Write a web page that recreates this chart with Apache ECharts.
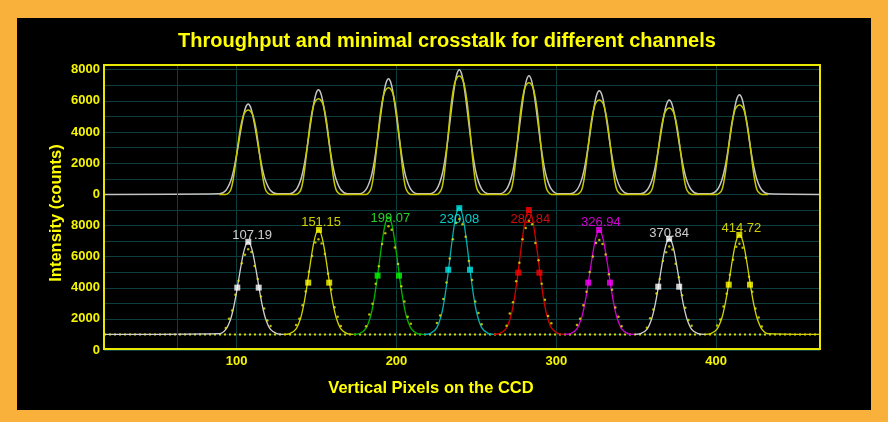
<!DOCTYPE html>
<html><head><meta charset="utf-8">
<script src="https://cdn.jsdelivr.net/npm/echarts@6/dist/echarts.min.js"></script>
<style>html,body{margin:0;padding:0;background:#f9b13b;}#c{width:888px;height:422px;}</style>
</head><body><div id="c"></div>
<script>
// ---------- text ----------
const titleText = 'Throughput and minimal crosstalk for different channels';
const yTitle = 'Intensity (counts)';
const xTitle = 'Vertical Pixels on the CCD';
// ---------- axes ----------
const xRange = [17, 465];
const topYRange = [-1000, 8300];
const botYRange = [0, 9000];
const extraVLine = 62.6;
// ---------- x samples of each peak (CCD pixel) ----------
const xs1 = [89.2,93.2,96.2,98.2,100.2,102.2,104.2,105.7,107.2,108.7,110.2,112.2,114.2,116.2,118.2,121.2,125.2];
const xs2 = [133.2,137.2,140.2,142.2,144.2,146.2,148.2,149.7,151.2,152.7,154.2,156.2,158.2,160.2,162.2,165.2,169.2];
const xs3 = [177,181,184,186,188,190,192,193.5,195,196.5,198,200,202,204,206,209,213];
const xs4 = [221.3,225.3,228.3,230.3,232.3,234.3,236.3,237.8,239.3,240.8,242.3,244.3,246.3,248.3,250.3,253.3,257.3];
const xs5 = [264.9,268.9,271.9,273.9,275.9,277.9,279.9,281.4,282.9,284.4,285.9,287.9,289.9,291.9,293.9,296.9,300.9];
const xs6 = [308.9,312.9,315.9,317.9,319.9,321.9,323.9,325.4,326.9,328.4,329.9,331.9,333.9,335.9,337.9,340.9,344.9];
const xs7 = [352.7,356.7,359.7,361.7,363.7,365.7,367.7,369.2,370.7,372.2,373.7,375.7,377.7,379.7,381.7,384.7,388.7];
const xs8 = [396.6,400.6,403.6,405.6,407.6,409.6,411.6,413.1,414.6,416.1,417.6,419.6,421.6,423.6,425.6,428.6,432.6];
// ---------- upper panel: gray trace ----------
const gray1 = [35,255,841,1595,2656,3892,5023,5597,5800,5597,5023,3892,2656,1595,841,255,35];
const gray2 = [40,295,973,1845,3073,4502,5811,6475,6710,6475,5811,4502,3073,1845,973,295,40];
const gray3 = [45,326,1076,2041,3398,4979,6426,7160,7420,7160,6426,4979,3398,2041,1076,326,45];
const gray4 = [48,352,1160,2200,3664,5368,6928,7720,8000,7720,6928,5368,3664,2200,1160,352,48];
const gray5 = [46,335,1103,2093,3485,5106,6590,7344,7610,7344,6590,5106,3485,2093,1103,335,46];
const gray6 = [40,293,964,1829,3046,4462,5759,6417,6650,6417,5759,4462,3046,1829,964,293,40];
const gray7 = [36,267,879,1667,2775,4066,5248,5848,6060,5848,5248,4066,2775,1667,879,267,36];
const gray8 = [38,281,927,1757,2927,4288,5534,6166,6390,6166,5534,4288,2927,1757,927,281,38];
// ---------- upper panel: yellow trace ----------
const yel1 = [0,0,271,1192,2710,4173,5068,5339,5420,5339,5068,4173,2710,1192,271,0,0];
const yel2 = [0,0,307,1349,3065,4720,5732,6038,6130,6038,5732,4720,3065,1349,307,0,0];
const yel3 = [0,0,342,1505,3420,5267,6395,6737,6840,6737,6395,5267,3420,1505,342,0,0];
const yel4 = [0,0,380,1670,3795,5844,7097,7476,7590,7476,7097,5844,3795,1670,380,0,0];
const yel5 = [0,0,358,1575,3580,5513,6695,7053,7160,7053,6695,5513,3580,1575,358,0,0];
const yel6 = [0,0,303,1333,3030,4666,5666,5969,6060,5969,5666,4666,3030,1333,303,0,0];
const yel7 = [0,0,278,1221,2775,4274,5189,5467,5550,5467,5189,4274,2775,1221,278,0,0];
const yel8 = [0,0,287,1263,2870,4420,5367,5654,5740,5654,5367,4420,2870,1263,287,0,0];
// ---------- lower panel: fitted curves ----------
const bottomBase = 1000;
const segBounds = [17,129,173,217,261,305,349,393,465];
const fit1 = [1048,1321,1982,2785,3874,5106,6206,6754,6950,6754,6206,5106,3874,2785,1982,1321,1048];
const fit2 = [1054,1363,2109,3016,4246,5637,6880,7498,7720,7498,6880,5637,4246,3016,2109,1363,1054];
const fit3 = [1060,1408,2247,3268,4651,6216,7615,8311,8560,8311,7615,6216,4651,3268,2247,1408,1060];
const fit4 = [1065,1440,2345,3445,4936,6624,8131,8881,9150,8881,8131,6624,4936,3445,2345,1440,1065];
const fit5 = [1064,1429,2312,3385,4840,6486,7956,8688,8950,8688,7956,6486,4840,3385,2312,1429,1064];
const fit6 = [1053,1361,2102,3004,4226,5609,6845,7460,7680,7460,6845,5609,4226,3004,2102,1361,1053];
const fit7 = [1049,1332,2013,2842,3966,5237,6373,6937,7140,6937,6373,5237,3966,2842,2013,1332,1049];
const fit8 = [1051,1346,2056,2920,4091,5416,6600,7189,7400,7189,6600,5416,4091,2920,2056,1346,1051];
// ---------- lower panel: measured points ----------
const dx1 = [93.2,95.2,97.2,99.2,101.2,103.2,105.2,107.2,109.2,111.2,113.2,115.2,117.2,119.2,121.2];
const dy1 = [1417,2012,2547,3559,4451,5582,6117,6474,6296,5403,4570,3440,2666,1893,1536];
const dx2 = [137.2,139.2,141.2,143.2,145.2,147.2,149.2,151.2,153.2,155.2,157.2,159.2,161.2,163.2,165.2];
const dy2 = [1605,2008,2882,3755,5032,6040,6914,7115,6846,6174,4898,3890,2747,2142,1538];
const dx3 = [181,183,185,187,189,191,193,195,197,199,201,203,205,207,209];
const dy3 = [1529,2285,2966,4251,5385,6821,7502,7955,7728,6594,5536,4100,3117,2134,1680];
const dx4 = [225.3,227.3,229.3,231.3,233.3,235.3,237.3,239.3,241.3,243.3,245.3,247.3,249.3,251.3,253.3];
const dy4 = [1734,2223,3282,4342,5890,7113,8172,8417,8091,7276,5727,4505,3119,2386,1652];
const dx5 = [268.9,270.9,272.9,274.9,276.9,278.9,280.9,282.9,284.9,286.9,288.9,290.9,292.9,294.9,296.9];
const dy5 = [1557,2352,3067,4419,5611,7122,7837,8314,8076,6883,5770,4260,3226,2193,1716];
const dx6 = [312.9,314.9,316.9,318.9,320.9,322.9,324.9,326.9,328.9,330.9,332.9,334.9,336.9,338.9,340.9];
const dy6 = [1601,2002,2870,3739,5008,6010,6878,7079,6812,6144,4874,3872,2737,2136,1534];
const dx7 = [356.7,358.7,360.7,362.7,364.7,366.7,368.7,370.7,372.7,374.7,376.7,378.7,380.7,382.7,384.7];
const dy7 = [1430,2044,2596,3640,4561,5728,6280,6649,6465,5544,4684,3517,2719,1921,1553];
const dx8 = [400.6,402.6,404.6,406.6,408.6,410.6,412.6,414.6,416.6,418.6,420.6,422.6,424.6,426.6,428.6];
const dy8 = [1576,1960,2792,3624,4840,5800,6632,6824,6568,5928,4712,3752,2664,2088,1512];
// ---------- lower panel: FWHM markers, peak markers, peak labels ----------
const halfX = [100.4,113.8,144.8,157.9,188.2,201.6,232.4,246.0,276.2,289.4,320.0,333.6,363.8,376.9,407.9,421.2];
const halfY = [4010,4010,4330,4330,4780,4780,5160,5160,4970,4970,4330,4330,4070,4070,4200,4200];
const halfPeak = [0,0,1,1,2,2,3,3,4,4,5,5,6,6,7,7];
const topSqX = [107.3,151.5,239.3,282.9,326.8,370.6,414.5];
const topSqY = [6955,7720,9120,9000,7720,7150,7400];
const topSqPeak = [0,1,3,4,5,6,7];
const peakLabels = ['107.19','151.15','199.07','230.08','282.84','326.94','370.84','414.72'];
const labelX = [109.7,152.8,196.2,239.4,283.8,327.9,370.6,415.8];
const labelY = [7340,8170,8470,8370,8370,8170,7510,7790];

// ---------- styles ----------
const YEL = '#f5f500';
const GRIDC = '#0e3d3d';
const lineColors = ['#d0d0d0','#d2d200','#00b400','#00b0b0','#d00000','#d000d0','#d0d0d0','#d2d200'];
const markColors = ['#ffffff','#ffff00','#00ff00','#00e8e8','#ff0000','#ff00ff','#ffffff','#ffff00'];
const labelColors = ['#ffffff','#ffff00','#33ff33','#00ffff','#ff1010','#ff00ff','#ffffff','#ffff00'];

const XS = [xs1,xs2,xs3,xs4,xs5,xs6,xs7,xs8];
const GR = [gray1,gray2,gray3,gray4,gray5,gray6,gray7,gray8];
const YE = [yel1,yel2,yel3,yel4,yel5,yel6,yel7,yel8];
const FI = [fit1,fit2,fit3,fit4,fit5,fit6,fit7,fit8];
const DX = [dx1,dx2,dx3,dx4,dx5,dx6,dx7,dx8];
const DY = [dy1,dy2,dy3,dy4,dy5,dy6,dy7,dy8];
const zip = (a,b) => a.map((v,i)=>[v,b[i]]);

let grayData = [[xRange[0],0]];
XS.forEach((xs,i)=>{ grayData = grayData.concat(zip(xs,GR[i])); });
grayData.push([xRange[1],0]);
let yelData = [];
XS.forEach((xs,i)=>{ yelData = yelData.concat(zip(xs,YE[i])); });

const series = [];
series.push({type:'line', xAxisIndex:0, yAxisIndex:0, data:grayData, showSymbol:false, smooth:0.3,
  lineStyle:{color:'#c4c4c4', width:1.5}, z:3,
  markLine:{silent:true, symbol:'none', label:{show:false}, lineStyle:{color:GRIDC,type:'solid',width:1}, data:[{xAxis:extraVLine}]}});
series.push({type:'line', xAxisIndex:0, yAxisIndex:0, data:yelData, showSymbol:false, smooth:0.3,
  lineStyle:{color:'#c8c800', width:1.5}, z:4});
series.push({type:'line', xAxisIndex:1, yAxisIndex:1, data:[[xRange[0],bottomBase],[xRange[1],bottomBase]], showSymbol:false,
  lineStyle:{color:'#d8d800', width:2, type:[2,3]}, z:3,
  markLine:{silent:true, symbol:'none', label:{show:false}, lineStyle:{color:GRIDC,type:'solid',width:1}, data:[{xAxis:extraVLine}]}});
FI.forEach((f,i)=>{
  const d = [[segBounds[i],bottomBase]].concat(zip(XS[i],f)).concat([[segBounds[i+1],bottomBase]]);
  series.push({type:'line', xAxisIndex:1, yAxisIndex:1, data:d, showSymbol:false, smooth:0.3, clip:false,
    lineStyle:{color:lineColors[i], width:1.3}, z:4});
});
let dots = [];
DX.forEach((dx,i)=>{ dots = dots.concat(zip(dx,DY[i])); });
series.push({type:'scatter', xAxisIndex:1, yAxisIndex:1, data:dots, symbol:'circle', symbolSize:2.5, clip:false,
  itemStyle:{color:'#e6e600'}, z:5});
const sq = halfX.map((x,i)=>({value:[x,halfY[i]], itemStyle:{color:markColors[halfPeak[i]]}}))
  .concat(topSqX.map((x,i)=>({value:[x,topSqY[i]], itemStyle:{color:markColors[topSqPeak[i]]}})));
series.push({type:'scatter', xAxisIndex:1, yAxisIndex:1, data:sq, symbol:'rect', symbolSize:6, clip:false, z:6});
series.push({type:'scatter', xAxisIndex:1, yAxisIndex:1, symbolSize:1, clip:false, z:20,
  itemStyle:{color:'rgba(0,0,0,0)'},
  data: peakLabels.map((t,i)=>({value:[labelX[i],labelY[i]], label:{show:true, position:'inside', formatter:t,
    color:labelColors[i], fontSize:13, fontFamily:'Liberation Sans', fontWeight:'normal',
    textBorderWidth:0, textBorderColor:'transparent', textShadowBlur:0,
    align:'center', verticalAlign:'middle'}}))});

const GL = 104, GT = 65, GW = 716, GH1 = 145, GH2 = 140;
const yLab = (lo,hi) => ({color:YEL, fontWeight:'bold', fontSize:13, fontFamily:'Liberation Sans', margin:4,
  formatter: v => (v>=lo && v<=hi && v%2000===0) ? String(v) : ''});

const option = {
  animation:false,
  backgroundColor:'#f9b13b',
  grid:[{left:GL, top:GT, width:GW, height:GH1},{left:GL, top:GT+GH1, width:GW, height:GH2}],
  xAxis:[
    {type:'value', gridIndex:0, min:xRange[0], max:xRange[1], axisLine:{show:false}, axisTick:{show:false}, axisLabel:{show:false},
     splitLine:{show:true, lineStyle:{color:GRIDC, width:1}}},
    {type:'value', gridIndex:1, min:xRange[0], max:xRange[1], axisLine:{show:false}, axisTick:{show:false},
     axisLabel:{color:YEL, fontWeight:'bold', fontSize:13, fontFamily:'Liberation Sans', margin:5,
       formatter: v => (v%100===0) ? String(v) : ''},
     splitLine:{show:true, lineStyle:{color:GRIDC, width:1}}}
  ],
  yAxis:[
    {type:'value', gridIndex:0, min:topYRange[0], max:topYRange[1], interval:1000, axisLine:{show:false}, axisTick:{show:false},
     axisLabel:yLab(0,8000), splitLine:{show:true, lineStyle:{color:GRIDC, width:1}}},
    {type:'value', gridIndex:1, min:botYRange[0], max:botYRange[1], interval:1000, axisLine:{show:false}, axisTick:{show:false},
     axisLabel:yLab(0,8000), splitLine:{show:true, lineStyle:{color:GRIDC, width:1}}}
  ],
  graphic:[
    {type:'rect', z:-100, shape:{x:17, y:18, width:854, height:392}, style:{fill:'#000000'}},
    {type:'rect', z:100, shape:{x:GL, y:GT, width:GW, height:GH1+GH2-1}, style:{fill:'none', stroke:'#e8e800', lineWidth:2}},
    {type:'text', z:100, x:447, y:41, style:{text:titleText, fill:'#ffff00', font:'bold 20px "Liberation Sans"', align:'center', verticalAlign:'middle'}},
    {type:'text', z:100, x:56, y:213, rotation:Math.PI/2, style:{text:yTitle, fill:'#ffff00', font:'bold 16.5px "Liberation Sans"', align:'center', verticalAlign:'middle'}},
    {type:'text', z:100, x:431, y:388, style:{text:xTitle, fill:'#ffff00', font:'bold 16.5px "Liberation Sans"', align:'center', verticalAlign:'middle'}}
  ],
  series: series
};
echarts.init(document.getElementById('c')).setOption(option);
</script></body></html>
